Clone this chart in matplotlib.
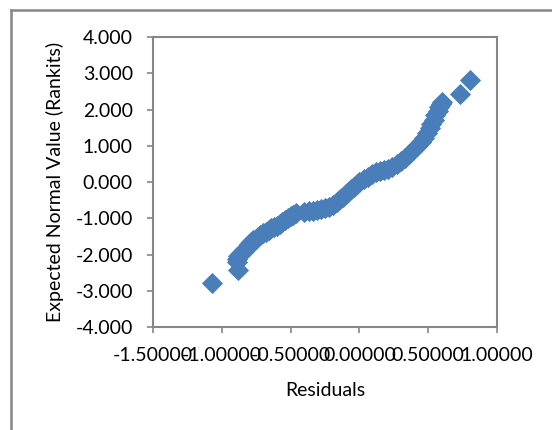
import matplotlib
matplotlib.use("Agg")
import matplotlib.pyplot as plt
from matplotlib.lines import Line2D

# residuals (x) and expected normal values / rankits (y)
residuals = [
    -1.07, -0.88, -0.89, -0.89, -0.88, -0.86, -0.84, -0.83, -0.81, -0.80,
    -0.79, -0.77, -0.75, -0.74, -0.72, -0.70, -0.68, -0.66, -0.64, -0.62,
    -0.60, -0.58, -0.56, -0.54, -0.52, -0.50, -0.48, -0.46,
    -0.40, -0.37, -0.34, -0.31, -0.28, -0.25, -0.22, -0.19,
    -0.16, -0.14, -0.12, -0.10, -0.08, -0.06, -0.04, -0.02, 0.00,
    0.03, 0.06, 0.09, 0.12, 0.15, 0.18, 0.21, 0.24, 0.27, 0.30,
    0.33, 0.36, 0.39, 0.42, 0.45, 0.47, 0.49, 0.51, 0.52, 0.54,
    0.55, 0.57, 0.58, 0.59, 0.60, 0.73, 0.80,
]
rankits = [
    -2.79, -2.43, -2.22, -2.12, -2.04, -1.97, -1.90, -1.84, -1.78, -1.72,
    -1.66, -1.61, -1.56, -1.51, -1.46, -1.42, -1.37, -1.33, -1.28, -1.24,
    -1.20, -1.15, -1.10, -1.05, -1.00, -0.95, -0.90, -0.85,
    -0.84, -0.81, -0.79, -0.77, -0.75, -0.73, -0.70, -0.63,
    -0.55, -0.48, -0.41, -0.34, -0.27, -0.20, -0.13, -0.06, 0.00,
    0.07, 0.14, 0.21, 0.27, 0.31, 0.34, 0.37, 0.42, 0.49, 0.57,
    0.66, 0.76, 0.87, 0.98, 1.10, 1.22, 1.35, 1.48, 1.60, 1.72,
    1.84, 1.96, 2.06, 2.15, 2.22, 2.43, 2.81,
]

x_ticks = [-1.5, -1.0, -0.5, 0.0, 0.5, 1.0]
y_ticks = [-4, -3, -2, -1, 0, 1, 2, 3, 4]

grey = '#868686'
blue = '#4A7EBB'

plt.rcParams['font.family'] = ['Lato', 'DejaVu Sans']

fig = plt.figure(figsize=(5.52, 4.30), dpi=100)
ax = fig.add_axes([0.2772, 0.2395, 0.6232, 0.6744])

ax.plot(residuals, rankits, linestyle='none', marker='D', markersize=10.5,
        color=blue, markeredgecolor=blue, markeredgewidth=0.6)

ax.set_xlim(-1.5, 1.0)
ax.set_ylim(-4, 4)
ax.set_xticks(x_ticks)
ax.set_yticks(y_ticks)
ax.set_xticklabels(['%.5f' % v for v in x_ticks])
ax.set_yticklabels(['%.3f' % v for v in y_ticks])

for s in ax.spines.values():
    s.set_color(grey)
    s.set_linewidth(1.5)
ax.tick_params(direction='out', length=4.5, width=1.2, color=grey,
               labelsize=14, pad=10)

ax.set_xlabel('Residuals', fontsize=14, labelpad=13)
ax.set_ylabel('Expected Normal Value (Rankits)', fontsize=14, labelpad=8)

# chart area border (cropped at right and bottom)
fig.add_artist(Line2D([10.5 / 552, 1.0], [1 - 10 / 430, 1 - 10 / 430],
                      transform=fig.transFigure, color=grey, lw=1.8))
fig.add_artist(Line2D([10.5 / 552, 10.5 / 552], [0.0, 1 - 10 / 430],
                      transform=fig.transFigure, color=grey, lw=1.8))

fig.savefig('out.png', dpi=100)
